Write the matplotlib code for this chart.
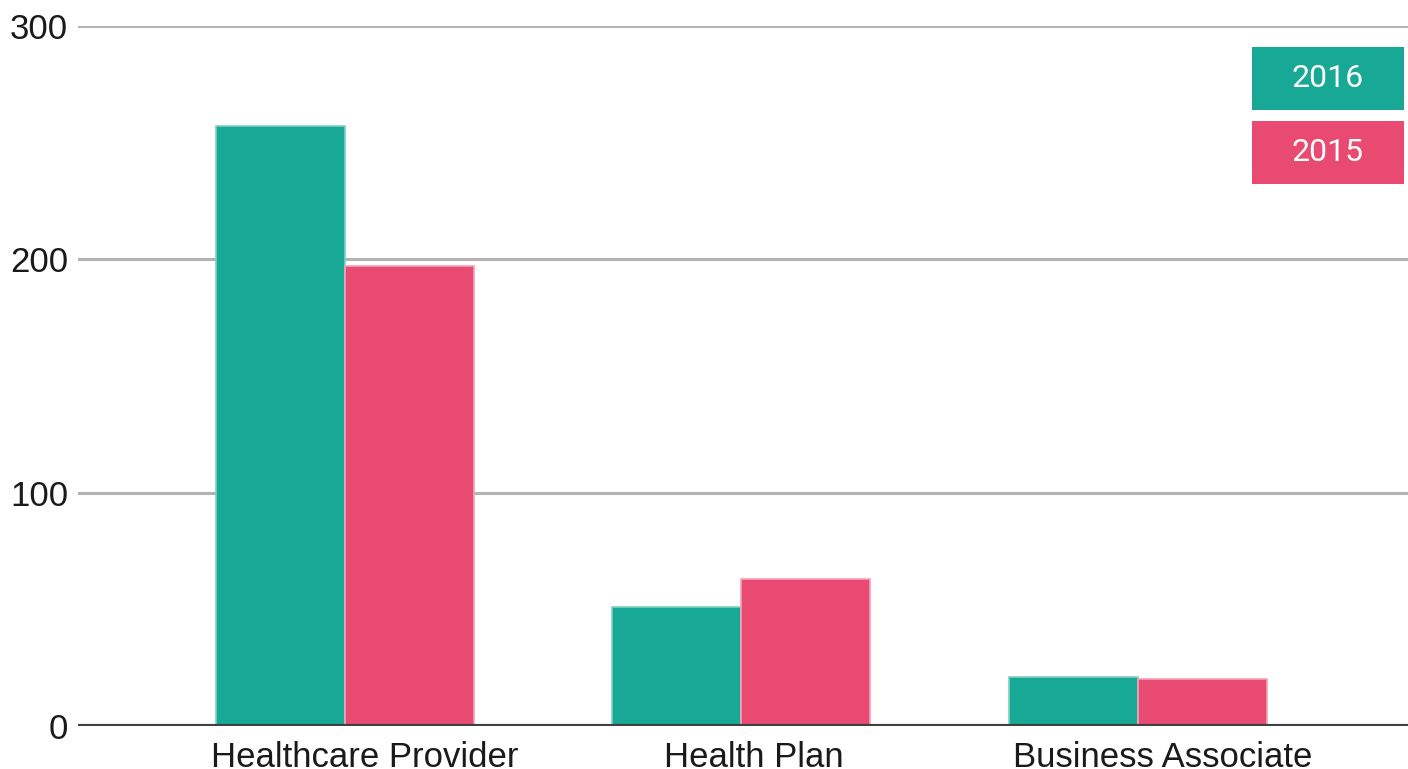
import matplotlib
matplotlib.use('Agg')
import matplotlib.pyplot as plt
import matplotlib.transforms as mtransforms
from matplotlib.patches import Rectangle
import numpy as np

# === Data ===
CATEGORIES = ['Healthcare Provider', 'Health Plan', 'Business Associate']
SERIES = ['2016', '2015']
VALUES_2016 = [257, 51, 21]
VALUES_2015 = [197, 63, 20]
Y_TICKS = [0, 100, 200, 300]

# === Style ===
TEAL = '#18a896'
PINK = '#e84a72'
BAR_W = 0.325
LABEL_SHIFT_PX = [20, 12, 24]  # labels sit a little right of the bar groups

fig = plt.figure(figsize=(14.08, 7.69), dpi=100)
ax = fig.add_axes([0.0554, 0.0559, 0.9446, 0.9101])

x = np.arange(len(CATEGORIES))
ax.bar(x - BAR_W / 2, VALUES_2016, BAR_W, color=TEAL, edgecolor='#7fd0c4', linewidth=1.2, zorder=3)
ax.bar(x + BAR_W / 2, VALUES_2015, BAR_W, color=PINK, edgecolor='#f2a3b6', linewidth=1.2, zorder=3)

ax.set_xlim(-0.672, 2.68)
ax.set_ylim(0, 300)
ax.set_yticks(Y_TICKS)
ax.set_yticklabels([str(v) for v in Y_TICKS], fontsize=25, color='#1a1a1a', family='Liberation Sans')
ax.set_xticks(x)
ax.set_xticklabels(CATEGORIES, fontsize=25, color='#1a1a1a', family='Liberation Sans')
ax.tick_params(axis='both', length=0)
ax.tick_params(axis='y', pad=7)
ax.tick_params(axis='x', pad=11)

for lbl, dx in zip(ax.get_xticklabels(), LABEL_SHIFT_PX):
    lbl.set_transform(lbl.get_transform() + mtransforms.Affine2D().translate(dx, 0))

ax.grid(axis='y', color='#b3b3b3', linewidth=2.2, zorder=0)
ax.axhline(0, color='#404040', linewidth=3, zorder=4)
for s in ax.spines.values():
    s.set_visible(False)

# legend boxes, top right
boxes = [(0.857, TEAL, SERIES[0]), (0.7607, PINK, SERIES[1])]
for y0, col, lab in boxes:
    fig.patches.append(Rectangle((0.889, y0), 0.108, 0.0819, transform=fig.transFigure,
                                 facecolor=col, edgecolor='none'))
    fig.text(0.889 + 0.054, y0 + 0.041, lab, color='white', fontsize=23,
             family='Roboto', ha='center', va='center')

fig.savefig('out.png', dpi=100)
